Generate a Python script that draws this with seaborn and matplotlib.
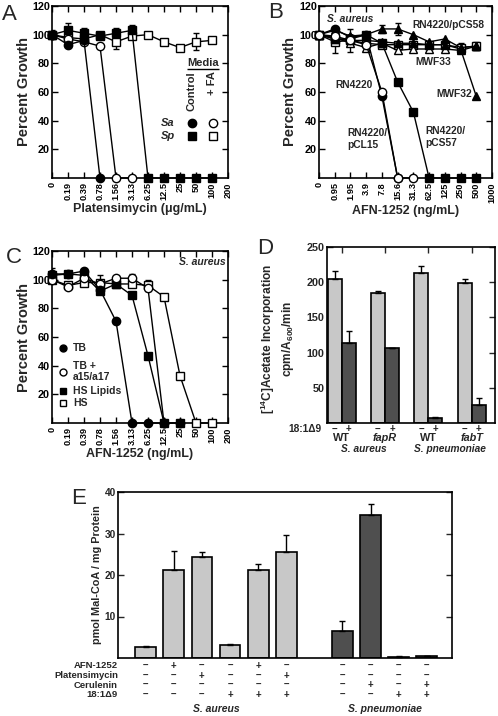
import numpy as np
import pandas as pd
import matplotlib
matplotlib.use("Agg")
import matplotlib.pyplot as plt
import seaborn as sns

sns.set_theme(style="ticks")
plt.rcParams["font.family"] = ["Liberation Sans", "DejaVu Sans"]
plt.rcParams["font.weight"] = "bold"
plt.rcParams["axes.labelweight"] = "bold"
plt.rcParams["mathtext.fontset"] = "custom"
plt.rcParams["mathtext.rm"] = "Liberation Sans:bold"
plt.rcParams["mathtext.bf"] = "Liberation Sans:bold"
plt.rcParams["mathtext.it"] = "Liberation Sans:bold:italic"
plt.rcParams["axes.linewidth"] = 1.2

# ---------------- data ----------------
# Panel A (platensimycin, ug/mL)
plat_conc = ["0", "0.19", "0.39", "0.78", "1.56", "3.13", "6.25", "12.5", "25", "50", "100", "200"]
a_sa_control = [100, 93, 96, 0]
a_sa_fa = [100, 97, 95, 92, 0, 0]
a_sp_control = [100, 103, 101, 99, 101, 103, 0, 0, 0, 0, 0]
a_sp_fa = [100, 98, 97, 100, 95, 99, 100, 95, 91, 95, 96]
a_sp_control_err = [0, 5, 4, 0, 4, 4, 0, 0, 0, 0, 0]
a_sp_fa_err = [3, 0, 0, 2, 5, 0, 0, 0, 0, 6, 0]

# Panel B (AFN-1252, ng/mL)
afn_conc_b = ["0", "0.95", "1.95", "3.9", "7.8", "15.6", "31.3", "62.5", "125", "250", "500", "1000"]
b_rn4220 = [100, 99, 96, 93, 60, 0, 0]
b_pcl15 = [100, 104, 98, 100, 57, 0]
b_pcs57 = [100, 97, 97, 100, 94, 67, 46, 0, 0, 0, 0]
b_pcs58 = [100, 103, 99, 100, 104, 104, 100, 95, 97, 91, 92]
b_mwf32 = [100, 97, 96, 96, 95, 94, 94, 93, 93, 90, 57]
b_mwf33 = [100, 98, 94, 91, 94, 89, 90, 90, 90, 89, 92]
b_open_sq = [100, 95, 96, 94, 93, 93, 93, 93, 93, 91, 92]
b_open_sq_err = [2, 8, 8, 0, 0, 0, 0, 0, 0, 3, 3]
b_pcs58_err = [0, 0, 0, 0, 3, 4, 0, 0, 0, 0, 0]

# Panel C (AFN-1252, ng/mL)
afn_conc_c = ["0", "0.19", "0.39", "0.78", "1.56", "3.13", "6.25", "12.5", "25", "50", "100", "200"]
c_tb = [104, 104, 106, 93, 71, 0, 0, 0, 0]
c_tb_fa = [100, 95, 101, 97, 101, 101, 94, 0]
c_hs_lipids = [103, 104, 103, 92, 97, 89, 47, 0, 0]
c_hs = [100, 96, 98, 98, 97, 97, 96, 88, 33, 0, 0]
c_tb_err = [4, 0, 0, 0, 0, 0, 0, 0, 0]
c_tb_fa_err = [0, 0, 0, 0, 0, 3, 0, 0]
c_hs_err = [0, 0, 0, 5, 0, 0, 4, 0, 0, 0, 0]

# Panel D ([14C]acetate incorporation)
d_strains = ["WT", "fapR", "WT ", "fabT"]
d_strain_italic = [False, True, False, True]
d_minus = [205, 184, 213, 199]
d_plus = [113, 106, 7, 25]
d_minus_err = [11, 4, 10, 6]
d_plus_err = [18, 1, 2, 10]

# Panel E (malonyl-CoA)
e_aureus = [2.6, 21.3, 24.4, 3.1, 21.2, 25.6]
e_aureus_err = [0.3, 4.5, 1.2, 0.3, 1.5, 4.1]
e_pneumo = [6.6, 34.4, 0.3, 0.4]
e_pneumo_err = [2.4, 2.6, 0.1, 0.1]
e_rows = ["AFN-1252", "Platensimycin", "Cerulenin", "18:1\u03949"]
e_signs = [
    ["-", "+", "-", "-", "+", "-", "-", "-", "-", "-"],
    ["-", "-", "+", "-", "-", "+", "-", "-", "-", "-"],
    ["-", "-", "-", "-", "-", "-", "-", "+", "-", "+"],
    ["-", "-", "-", "+", "+", "+", "-", "-", "+", "+"],
]

LIGHT = "#c8c8c8"
DARK = "#4f4f4f"

fig = plt.figure(figsize=(4.98, 7.16), dpi=100)
W, H = 498.0, 716.0


def add_ax(l, t, r, b):
    return fig.add_axes([l / W, 1 - b / H, (r - l) / W, (b - t) / H])


axA = add_ax(52, 6, 228, 178)
axB = add_ax(319, 6, 492, 178)
axC = add_ax(52, 251, 228, 423)
axD = add_ax(326.7, 247, 495, 423)
axE = add_ax(118, 492, 452, 658)


def draw_series(ax, values, marker, filled, err=None, ms=6):
    df = pd.DataFrame({"pos": np.arange(len(values)), "val": values})
    sns.lineplot(data=df, x="pos", y="val", ax=ax, color="black", lw=1.0,
                 marker=marker, markersize=ms,
                 markerfacecolor="black" if filled else "white",
                 markeredgecolor="black", markeredgewidth=1.0,
                 clip_on=False, zorder=3, legend=False)
    if err is not None:
        e = np.asarray(err[:len(values)], dtype=float)
        m = e > 0
        x = df["pos"].to_numpy()[m]
        y = df["val"].to_numpy()[m]
        ax.errorbar(x, y, yerr=e[m], fmt="none", ecolor="black", elinewidth=1.0,
                    capsize=2.5, capthick=1.0, zorder=2)


def style_growth(ax, cats, xlabel):
    ax.set_xlim(0, len(cats) - 1)
    ax.set_ylim(0, 120)
    ax.set_xticks(range(len(cats)))
    ax.set_xticklabels(cats, rotation=90, fontsize=6.6, fontweight="bold")
    ax.set_yticks([20, 40, 60, 80, 100, 120])
    ax.set_yticklabels(["20", "40", "60", "80", "100", "120"], fontsize=7.8, fontweight="bold")
    ax.tick_params(axis="both", direction="in", top=True, right=True, length=4, width=1, colors="black")
    ax.tick_params(axis="x", pad=3)
    ax.tick_params(axis="y", pad=1.5)
    ax.set_xlabel(xlabel, fontsize=9, fontweight="bold", labelpad=2)
    ax.set_ylabel("Percent Growth", fontsize=10.5, fontweight="bold")
    ax.yaxis.set_label_coords(-0.12, 0.5)
    for s in ax.spines.values():
        s.set_visible(True)
        s.set_color("black")
        s.set_linewidth(1.2)


# ---------------- Panel A ----------------
draw_series(axA, a_sp_fa, "s", False, a_sp_fa_err, ms=5.5)
draw_series(axA, a_sp_control, "s", True, a_sp_control_err, ms=5.5)
draw_series(axA, a_sa_fa, "o", False)
draw_series(axA, a_sa_control, "o", True)
style_growth(axA, plat_conc, "Platensimycin (\u03bcg/mL)")
axA.text(9.44, 80.5, "Media", ha="center", va="center", fontsize=8, fontweight="bold")
axA.plot([8.45, 10.45], [76.3, 76.3], color="black", lw=1.0, solid_capstyle="butt")
axA.text(8.69, 74.5, "Control", rotation=90, ha="center", va="top", fontsize=8, fontweight="bold")
axA.text(10.03, 74.5, "+ FA", rotation=90, ha="center", va="top", fontsize=8, fontweight="bold")
axA.text(7.25, 38.6, "Sa", ha="center", va="center", fontsize=8, fontweight="bold", style="italic")
axA.text(7.25, 29.3, "Sp", ha="center", va="center", fontsize=8, fontweight="bold", style="italic")
for xx, yy, mk, fc in [(8.73, 38.6, "o", "black"), (10.04, 38.6, "o", "white"),
                       (8.73, 29.3, "s", "black"), (10.04, 29.3, "s", "white")]:
    axA.plot([xx], [yy], marker=mk, ms=6 if mk == "o" else 5.5, mfc=fc, mec="black", mew=1.0, ls="none")

# ---------------- Panel B ----------------
draw_series(axB, b_open_sq, "s", False, b_open_sq_err, ms=5.5)
draw_series(axB, b_mwf33, "^", False, ms=5.5)
draw_series(axB, b_mwf32, "^", True, ms=5.5)
draw_series(axB, b_pcs58, "^", True, b_pcs58_err, ms=5.5)
draw_series(axB, b_pcs57, "s", True, ms=5.5)
draw_series(axB, b_pcl15, "o", True)
draw_series(axB, b_rn4220, "o", False)
style_growth(axB, afn_conc_b, "AFN-1252 (ng/mL)")
axB.yaxis.set_label_coords(-0.125, 0.5)
fsb = 7.4
axB.text(0.51, 111, "S. aureus", ha="left", va="center", fontsize=fsb, fontweight="bold", style="italic")
axB.text(5.91, 107, "RN4220/pCS58", ha="left", va="center", fontsize=fsb, fontweight="bold")
axB.text(6.1, 81.2, "MWF33", ha="left", va="center", fontsize=fsb, fontweight="bold")
axB.text(7.45, 58.6, "MWF32", ha="left", va="center", fontsize=fsb, fontweight="bold")
axB.text(1.06, 64.9, "RN4220", ha="left", va="center", fontsize=fsb, fontweight="bold")
axB.text(1.78, 27.4, "RN4220/\npCL15", ha="left", va="center", fontsize=fsb, fontweight="bold", linespacing=1.3)
axB.text(6.74, 28.8, "RN4220/\npCS57", ha="left", va="center", fontsize=fsb, fontweight="bold", linespacing=1.3)

# ---------------- Panel C ----------------
draw_series(axC, c_hs, "s", False, c_hs_err, ms=5.5)
draw_series(axC, c_hs_lipids, "s", True, ms=5.5)
draw_series(axC, c_tb_fa, "o", False, c_tb_fa_err)
draw_series(axC, c_tb, "o", True, c_tb_err)
style_growth(axC, afn_conc_c, "AFN-1252 (ng/mL)")
axC.text(10.85, 112, "S. aureus", ha="right", va="center", fontsize=7.5, fontweight="bold", style="italic")
leg_rows = [(52, "TB", "o", "black", 52),
            (36, "TB +\na15/a17", "o", "white", 35.5),
            (22.5, "HS Lipids", "s", "black", 22.5),
            (14, "HS", "s", "white", 14)]
for ty, label, mk, fc, my in leg_rows:
    axC.plot([0.71], [my], marker=mk, ms=5 if mk == "o" else 4.5, mfc=fc, mec="black", mew=1.0, ls="none")
    axC.text(1.31, ty, label, ha="left", va="center", fontsize=7.5, fontweight="bold", linespacing=1.15)

# ---------------- Panel D ----------------
d_df = pd.DataFrame({
    "strain": d_strains * 2,
    "treat": ["-"] * 4 + ["+"] * 4,
    "value": d_minus + d_plus,
})
sns.barplot(data=d_df, x="strain", y="value", hue="treat", order=d_strains, hue_order=["-", "+"],
            palette={"-": LIGHT, "+": DARK}, saturation=1, width=0.65, edgecolor="black",
            linewidth=1.2, errorbar=None, legend=False, ax=axD)
for cont, errs in zip(axD.containers, [d_minus_err, d_plus_err]):
    for bar, e in zip(cont, errs):
        xc = bar.get_x() + bar.get_width() / 2
        axD.errorbar([xc], [bar.get_height()], yerr=[[0], [e]], fmt="none", ecolor="black",
                     elinewidth=1.0, capsize=2.5, capthick=1.0, zorder=1)
axD.set_xlim(-0.346, 3.54)
axD.set_ylim(0, 250)
axD.set_yticks([50, 100, 150, 200, 250])
axD.set_yticklabels(["50", "100", "150", "200", "250"], fontsize=7.8, fontweight="bold")
axD.set_xticks(range(4))
axD.tick_params(axis="x", direction="in", top=True, bottom=False, labelbottom=False, length=4, width=1)
axD.tick_params(axis="y", direction="in", right=True, length=4, width=1, pad=1.5)
for s in axD.spines.values():
    s.set_visible(True)
    s.set_color("black")
    s.set_linewidth(1.2)
axD.set_xlabel("")
axD.set_ylabel("[$\\mathbf{^{14}}$C]Acetate Incorporation\ncpm/A$_{\\mathbf{600}}$/min",
               fontsize=8.6, fontweight="bold", linespacing=1.3)
axD.yaxis.set_label_coords(-0.18, 0.48)
tD = axD.get_xaxis_transform()
axD.text(-0.028, -0.032, "18:1\u03949", transform=axD.transAxes, ha="right", va="center",
         fontsize=7.3, fontweight="bold")
for cont, sign in zip(axD.containers, ["\u2212", "+"]):
    for bar in cont:
        xc = bar.get_x() + bar.get_width() / 2
        axD.text(xc, -0.032, sign, transform=tD, ha="center", va="center", fontsize=7, fontweight="bold")
for i, (name, it) in enumerate(zip(d_strains, d_strain_italic)):
    axD.text(i, -0.088, name.strip(), transform=tD, ha="center", va="center", fontsize=7.8,
             fontweight="bold", style="italic" if it else "normal")
axD.text(0.5, -0.148, "S. aureus", transform=tD, ha="center", va="center", fontsize=7.3,
         fontweight="bold", style="italic")
axD.text(2.5, -0.148, "S. pneumoniae", transform=tD, ha="center", va="center", fontsize=7.3,
         fontweight="bold", style="italic")

# ---------------- Panel E ----------------
e_labels_a = ["a%d" % i for i in range(len(e_aureus))]
e_labels_p = ["p%d" % i for i in range(len(e_pneumo))]
e_order = e_labels_a + ["gap"] + e_labels_p
e_df = pd.DataFrame({
    "cond": e_labels_a + e_labels_p,
    "species": ["S. aureus"] * len(e_aureus) + ["S. pneumoniae"] * len(e_pneumo),
    "value": e_aureus + e_pneumo,
})
sns.barplot(data=e_df, x="cond", y="value", hue="species", order=e_order,
            hue_order=["S. aureus", "S. pneumoniae"], dodge=False,
            palette={"S. aureus": LIGHT, "S. pneumoniae": DARK}, saturation=1, width=0.74,
            edgecolor="black", linewidth=1.2, errorbar=None, legend=False, ax=axE)
bar_centers = []
for cont, errs in zip(axE.containers, [e_aureus_err, e_pneumo_err]):
    for bar, e in zip(cont, errs):
        xc = bar.get_x() + bar.get_width() / 2
        bar_centers.append(xc)
        axE.errorbar([xc], [bar.get_height()], yerr=[[0], [e]], fmt="none", ecolor="black",
                     elinewidth=1.0, capsize=2.5, capthick=1.0, zorder=1)
axE.set_xlim(-0.986, 10.9)
axE.set_ylim(0, 40)
axE.set_yticks([10, 20, 30, 40])
axE.set_yticklabels(["10", "20", "30", "40"], fontsize=7.3, fontweight="bold")
axE.tick_params(axis="x", bottom=False, top=False, labelbottom=False)
axE.tick_params(axis="y", direction="in", right=True, length=4, width=1, pad=1.5)
for s in axE.spines.values():
    s.set_visible(True)
    s.set_color("black")
    s.set_linewidth(1.2)
axE.set_xlabel("")
axE.set_ylabel("pmol Mal-CoA / mg Protein", fontsize=7.8, fontweight="bold")
axE.yaxis.set_label_coords(-0.047, 0.5)
tE = axE.get_xaxis_transform()
row_y = [-0.046, -0.106, -0.163, -0.220]
for ry, rname, signs in zip(row_y, e_rows, e_signs):
    axE.text(-0.99, ry, rname, transform=tE, ha="right", va="center", fontsize=6.8, fontweight="bold")
    for xc, sg in zip(bar_centers, signs):
        axE.text(xc, ry, "\u2013" if sg == "-" else "+", transform=tE, ha="center", va="center",
                 fontsize=7, fontweight="bold")
axE.text(np.mean(bar_centers[:6]), -0.307, "S. aureus", transform=tE, ha="center", va="center",
         fontsize=7.5, fontweight="bold", style="italic")
axE.text(np.mean(bar_centers[6:]), -0.307, "S. pneumoniae", transform=tE, ha="center", va="center",
         fontsize=7.5, fontweight="bold", style="italic")

# ---------------- panel letters ----------------
for (px, py, letter) in [(2, 15, "A"), (268, 12, "B"), (6, 257, "C"), (257, 248, "D"), (71, 499, "E")]:
    fig.text(px / W, 1 - py / H, letter, fontsize=16, fontweight="normal", ha="left", va="center")

fig.savefig("out.png", dpi=100)
